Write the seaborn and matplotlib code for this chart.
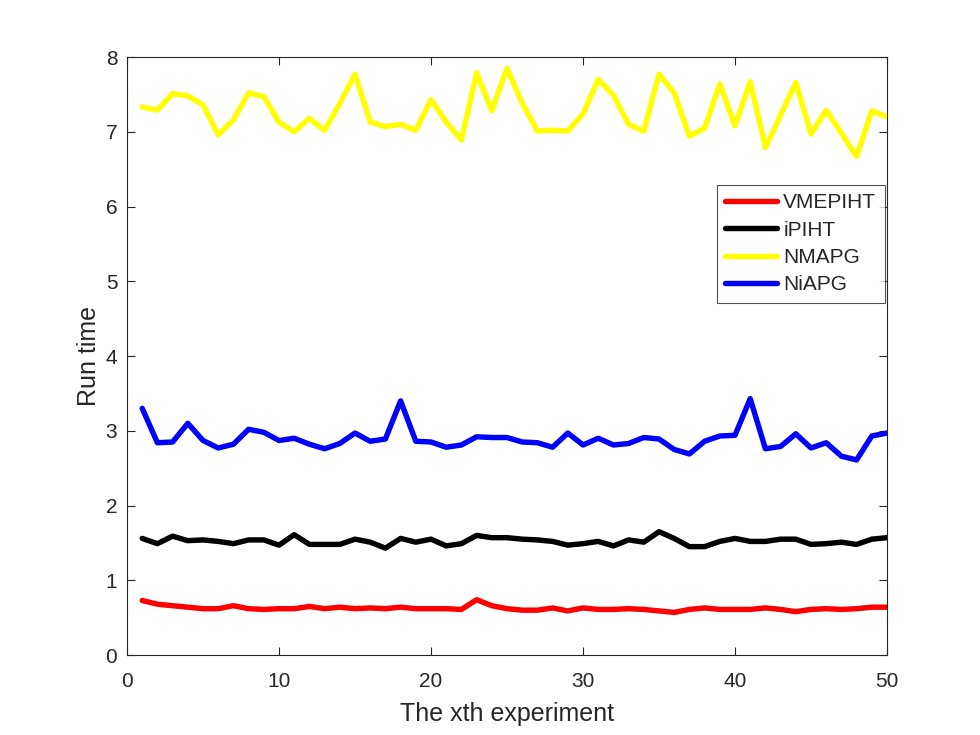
import matplotlib
matplotlib.use('Agg')
from matplotlib import pyplot as plt
import pandas as pd
import seaborn as sns

experiments = list(range(1, 51))

vmepiht = [0.73, 0.68, 0.66, 0.64, 0.62, 0.62, 0.66, 0.62, 0.61, 0.62,
           0.62, 0.65, 0.62, 0.64, 0.62, 0.63, 0.62, 0.64, 0.62, 0.62,
           0.62, 0.61, 0.74, 0.66, 0.62, 0.60, 0.60, 0.63, 0.59, 0.63,
           0.61, 0.61, 0.62, 0.61, 0.59, 0.57, 0.61, 0.63, 0.61, 0.61,
           0.61, 0.63, 0.61, 0.58, 0.61, 0.62, 0.61, 0.62, 0.64, 0.64]
ipiht = [1.56, 1.49, 1.59, 1.53, 1.54, 1.52, 1.49, 1.54, 1.54, 1.47,
         1.61, 1.48, 1.48, 1.48, 1.55, 1.51, 1.43, 1.56, 1.51, 1.55,
         1.46, 1.49, 1.60, 1.57, 1.57, 1.55, 1.54, 1.52, 1.47, 1.49,
         1.52, 1.46, 1.54, 1.51, 1.65, 1.56, 1.45, 1.45, 1.52, 1.56,
         1.52, 1.52, 1.55, 1.55, 1.48, 1.49, 1.51, 1.48, 1.55, 1.57]
nmapg = [7.33, 7.29, 7.51, 7.48, 7.36, 6.96, 7.16, 7.52, 7.47, 7.13,
         7.00, 7.18, 7.02, 7.38, 7.77, 7.13, 7.07, 7.10, 7.02, 7.43,
         7.13, 6.89, 7.79, 7.28, 7.85, 7.38, 7.01, 7.02, 7.01, 7.24,
         7.70, 7.49, 7.10, 7.01, 7.77, 7.52, 6.94, 7.05, 7.64, 7.08,
         7.67, 6.79, 7.22, 7.66, 6.97, 7.29, 6.98, 6.67, 7.28, 7.20]
niapg = [3.30, 2.84, 2.85, 3.10, 2.87, 2.77, 2.82, 3.02, 2.98, 2.87,
         2.90, 2.82, 2.76, 2.83, 2.97, 2.86, 2.89, 3.40, 2.86, 2.85,
         2.78, 2.81, 2.92, 2.91, 2.91, 2.85, 2.84, 2.78, 2.97, 2.81,
         2.90, 2.81, 2.83, 2.91, 2.89, 2.75, 2.69, 2.86, 2.93, 2.94,
         3.43, 2.76, 2.79, 2.96, 2.77, 2.84, 2.66, 2.61, 2.93, 2.97]

methods = ['VMEPIHT', 'iPIHT', 'NMAPG', 'NiAPG']
colors = ['#ff0000', '#000000', '#ffff00', '#0000ff']

df = pd.DataFrame({'x': experiments, 'VMEPIHT': vmepiht, 'iPIHT': ipiht,
                   'NMAPG': nmapg, 'NiAPG': niapg})
df = pd.melt(df, id_vars='x', var_name='method', value_name='time')

sns.set_style('ticks')
plt.rcParams['font.family'] = ['Liberation Sans', 'DejaVu Sans']

fig = plt.figure(figsize=(9.8, 7.35), dpi=100)
ax = fig.add_axes([0.1296, 0.1088, 0.7755, 0.8136])
sns.lineplot(data=df, x='x', y='time', hue='method', hue_order=methods,
             palette=colors, linewidth=3.9, ax=ax)

ax.set_xlim(0, 50)
ax.set_ylim(0, 8)
ax.set_xticks(range(0, 51, 10))
ax.set_yticks(range(0, 9))
ax.tick_params(direction='in', labelsize=15, top=True, right=True,
               length=6, width=0.8, colors='#262626')
ax.tick_params(axis='x', pad=12)
ax.tick_params(axis='y', pad=7)
for s in ax.spines.values():
    s.set_color('#262626')
    s.set_linewidth(0.8)
ax.set_xlabel('The xth experiment', fontsize=18, color='#262626', labelpad=8)
ax.set_ylabel('Run time', fontsize=18, color='#262626', labelpad=3)

leg = ax.legend(loc='upper right', bbox_to_anchor=(0.997, 0.786),
                borderaxespad=0, fontsize=15, frameon=True, fancybox=False,
                handlelength=2.5, borderpad=0.4, labelspacing=0.4,
                handletextpad=0.3)
leg.get_frame().set_edgecolor('#262626')
leg.get_frame().set_linewidth(0.8)

fig.savefig('out.png', dpi=100)
